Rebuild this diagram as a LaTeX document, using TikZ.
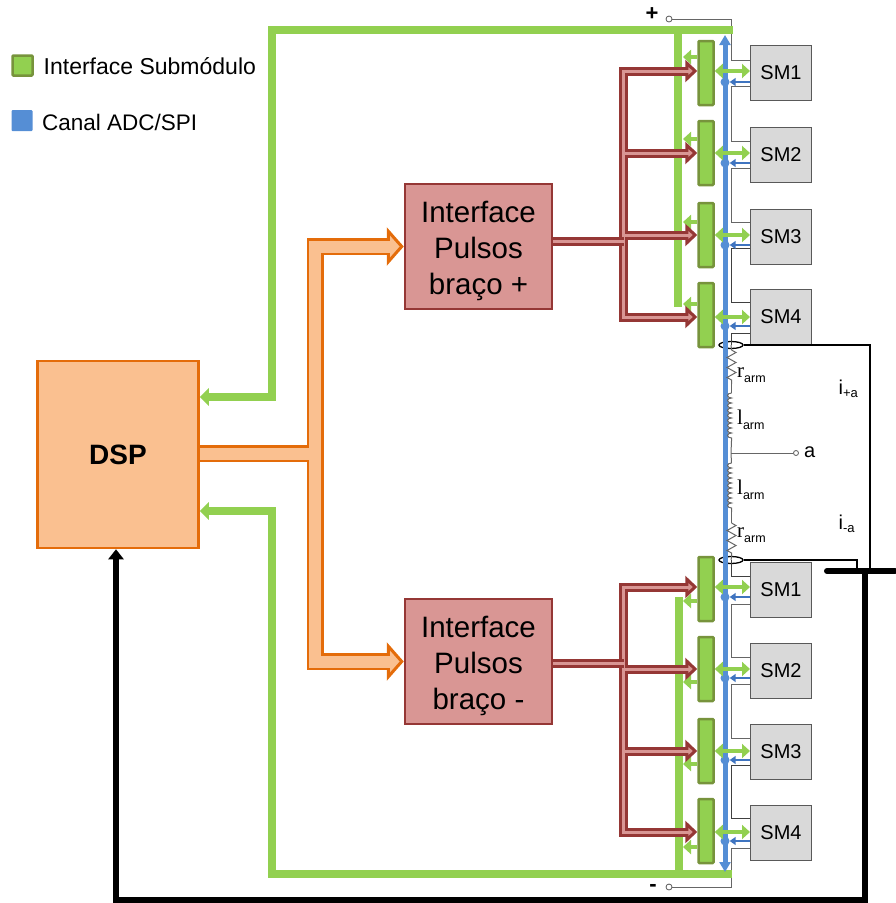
\documentclass[tikz,border=0pt]{standalone}
\usepackage{fontspec}
\setmainfont{Liberation Sans}
\newfontfamily\serifarm{Liberation Serif}
\usetikzlibrary{shapes.geometric,arrows.meta,decorations.pathmorphing}
\definecolor{grn}{HTML}{92D050}
\definecolor{grndark}{HTML}{77933C}
\definecolor{blu}{HTML}{558ED5}
\definecolor{bludark}{HTML}{3F74C0}
\definecolor{org}{HTML}{E46C0A}
\definecolor{orgfill}{HTML}{FAC090}
\definecolor{rd}{HTML}{953735}
\definecolor{rdfill}{HTML}{D99694}
\tikzstyle{dspbox} = [rectangle, minimum width=161pt, minimum height=187pt, inner sep=0pt, text centered, draw=org, fill=orgfill, line width=2.5pt, font=\fontsize{28}{30}\selectfont\bfseries]
\tikzstyle{pulsebox} = [rectangle, minimum width=147pt, minimum height=125pt, inner sep=0pt, draw=rd, fill=rdfill, line width=2.5pt]
\tikzstyle{pulsetext} = [inner sep=0pt, align=center, yshift=-4.5pt, font=\fontsize{29.5}{36}\selectfont]
\tikzstyle{smbox} = [rectangle, minimum width=61pt, minimum height=55pt, inner sep=0pt, text centered, draw=black!65, fill=black!15, line width=1pt, font=\fontsize{20}{22}\selectfont]
\tikzstyle{module} = [rectangle, rounded corners=1pt, minimum width=15pt, minimum height=64pt, inner sep=0pt, draw=grndark, fill=grn, line width=2.5pt]
\tikzstyle{legendtext} = [anchor=west, inner sep=0pt]
\tikzstyle{lbl} = [anchor=base west, inner sep=0pt, font=\fontsize{20}{22}\selectfont]
\tikzstyle{terminal} = [circle, draw=black!65, fill=white, line width=0.8pt, minimum size=6pt, inner sep=0pt]
\tikzstyle{wire} = [draw=black!60, line width=1pt]
\tikzstyle{wiredark} = [draw=black!75, line width=1pt]
\tikzstyle{greenbus} = [draw=grn, line width=8pt, >={Triangle[length=9pt,width=17pt]}]
\tikzstyle{greenthin} = [draw=grn, line width=4pt, >={Triangle[length=8pt,width=14pt]}]
\tikzstyle{bluebus} = [draw=blu, line width=5pt, >={Triangle[length=10pt,width=11pt]}]
\tikzstyle{bluethin} = [draw=bludark, line width=2pt, >={Triangle[length=6pt,width=8pt]}]
\tikzstyle{orangebus} = [draw=org, line width=2.5pt, double=orgfill, double distance=12pt, >={Triangle[length=17pt,width=38pt,line width=3pt,fill=orgfill]}]
\tikzstyle{orangepatch} = [draw=orgfill, line width=12pt]
\tikzstyle{redbus} = [draw=rd, line width=3pt, double=rdfill, double distance=3pt, >={Triangle[length=12pt,width=22pt,line width=3.5pt,fill=rdfill]}]
\tikzstyle{redpatch} = [draw=rdfill, line width=3pt]
\tikzstyle{sense} = [draw=black, line width=6pt, >={Triangle[length=10pt,width=15pt]}]
\tikzset{
  resistor/.style={wire, decorate, decoration={zigzag, segment length=10pt, amplitude=4.5pt}},
  inductor/.style={wire, decorate, decoration={bumps, mirror, segment length=10pt, amplitude=4pt}}
}
\newcommand{\armsub}[1]{\raisebox{-5pt}{\fontsize{12.5}{14}\selectfont #1}}
\newcommand{\cursub}[1]{\raisebox{-3pt}{\fontsize{13}{14}\selectfont #1}}
\begin{document}
\begin{tikzpicture}[x=1pt,y=-1pt]
  \useasboundingbox (0,0) rectangle (895,903);
  \node (legmod)[rectangle, rounded corners=1pt, draw=grndark, fill=grn, line width=2.5pt, minimum size=20pt, inner sep=0pt] at (22.5,65.5) {};
  \node (legmodtext)[legendtext, font=\fontsize{23}{26}\selectfont] at (43.5,66) {Interface Submódulo};
  \node (legadc)[rectangle, rounded corners=1pt, fill=blu, minimum size=21pt, inner sep=0pt] at (22,120.5) {};
  \node (legadctext)[legendtext, font=\fontsize{22.5}{26}\selectfont] at (42,122) {Canal ADC/SPI};
  \node (dsp)[dspbox] at (118,454.5) {DSP};
  \node (pu)[pulsebox] at (478.5,246.5) {};
  \node (putext)[pulsetext] at (pu.center) {Interface\\Pulsos\\braço +};
  \node (pl)[pulsebox] at (478.5,661.5) {};
  \node (pltext)[pulsetext] at (pl.center) {Interface\\Pulsos\\braço -};
  \foreach \n/\ymod in {u1/73, u2/153, u3/235, u4/315, l1/589, l2/669, l3/751, l4/831} {
    \node (mod\n)[module] at (706,\ymod) {};
  }
  \foreach \n/\t/\ysm in {u1/SM1/73, u2/SM2/154.5, u3/SM3/236.5, u4/SM4/316.5, l1/SM1/590, l2/SM2/671, l3/SM3/752, l4/SM4/833} {
    \node (sm\n)[smbox] at (781,\ysm) {\t};
  }
  \node (plus)[terminal] at (669,19) {};
  \node (plustext)[inner sep=0pt, font=\fontsize{22}{24}\selectfont\bfseries] at (652,14) {+};
  \node (minus)[terminal] at (669,887) {};
  \node (minustext)[inner sep=0pt, font=\fontsize{22}{24}\selectfont\bfseries] at (653,888) {-};
  \node (ringu)[ellipse, draw=black, line width=1.3pt, minimum width=24pt, minimum height=7pt, inner sep=0pt] at (731,345) {};
  \node (ringl)[ellipse, draw=black, line width=1.3pt, minimum width=24pt, minimum height=7pt, inner sep=0pt] at (731,560) {};
  \node (terma)[terminal, minimum size=5pt] at (796,453) {};
  \node (atext)[lbl] at (804,457) {a};
  \node (r1text)[lbl] at (737,377) {{\serifarm\fontsize{21}{22}\selectfont r}\armsub{arm}};
  \node (l1text)[lbl] at (737,424) {{\serifarm\fontsize{21}{22}\selectfont l}\armsub{arm}};
  \node (l2text)[lbl] at (737,494) {{\serifarm\fontsize{21}{22}\selectfont l}\armsub{arm}};
  \node (r2text)[lbl] at (737,537) {{\serifarm\fontsize{21}{22}\selectfont r}\armsub{arm}};
  \node (ipa)[lbl] at (838.5,394) {i\cursub{+a}};
  \node (ima)[lbl] at (838.5,529) {i\cursub{-a}};
  \coordinate (jct) at (731,453);
  \coordinate (gtopend) at (733,30);
  \coordinate (gbotend) at (732,874);
  \coordinate (senseleft) at (827,571);
  \coordinate (senseright) at (895,571);
  \draw[wire] (plus.east) -- (731,19) -- (731,60) -- (smu1.west |- 0,60);
  \draw[wire] (smu1.west |- 0,86) -| (731,141) -- (smu2.west |- 0,141);
  \draw[wire] (smu2.west |- 0,168) -| (731,222) -- (smu3.west |- 0,222);
  \draw[wiredark] (smu3.west |- 0,248) -| (731,302) -- (smu4.west |- 0,302);
  \draw[wiredark] (smu4.west |- 0,333) -| (ringu.center);
  \draw[wiredark] (ringl.center) |- (sml1.west |- 0,576);
  \draw[wire] (sml1.west |- 0,604) -| (731,657) -- (sml2.west |- 0,657);
  \draw[wire] (sml2.west |- 0,684) -| (731,738) -- (sml3.west |- 0,738);
  \draw[wiredark] (sml3.west |- 0,765) -| (731,818) -- (sml4.west |- 0,818);
  \draw[wire] (sml4.west |- 0,848) -| (731,887) -- (minus.east);
  \draw[line width=1.3pt] (ringu.east) -- (870,345) -- (870,571);
  \draw[line width=1.3pt] (ringl.east) -- (857,560) -- (857,571);
  \draw[greenbus,->] (gtopend) -- (272,30) -- (272,397) -- (dsp.east |- 0,397);
  \draw[greenbus] (678,30) -- (678,307);
  \draw[greenbus,->] (gbotend) -- (272,874) -- (272,511) -- (dsp.east |- 0,511);
  \draw[greenbus] (679,874) -- (679,597);
  \draw[bluebus,<->] (725,35) -- (725,872);
  \draw[wire] (ringu.center) -- (731.5,350);
  \draw[resistor] (731.5,350) -- (731.5,384);
  \draw[wire] (731.5,384) -- (731.5,393);
  \draw[inductor] (731.5,393) -- (731.5,441);
  \draw[wire] (731.5,441) -- (jct) -- (731.5,463);
  \draw[wire] (jct) -- (terma);
  \draw[inductor] (731.5,463) -- (731.5,512);
  \draw[wire] (731.5,512) -- (731.5,523);
  \draw[resistor] (731.5,523) -- (731.5,557);
  \draw[wire] (731.5,557) -- (ringl.center);
  \foreach \n/\yarr/\ydot/\yside in {u1/71/82/57, u2/153/163/139, u3/235/245/222, u4/317/326/304, l1/587/597/601, l2/669/678/682, l3/751/760/764, l4/832/841/847} {
    \node (dot\n)[circle, fill=blu, minimum size=9pt, inner sep=0pt] at (725,\ydot) {};
    \draw[bluethin,->] (sm\n.west |- 0,\ydot) -- (dot\n.east);
    \draw[greenthin,<->] (mod\n.east |- 0,\yarr) -- (sm\n.west |- 0,\yarr);
    \draw[greenthin,->] (mod\n.west |- 0,\yside) -- (683,\yside);
  }
  \draw[sense,line cap=round] (senseleft) -- (senseright);
  \draw[sense,->] (865,571) -- (865,900) -- (116,900) -- (116,0 |- dsp.south);
  \draw[orangebus] (dsp.east |- 0,453.5) -- (315,453.5);
  \draw[orangebus,<->] (pu.west) -- (315,246.5) -- (315,661.5) -- (pl.west);
  \draw[orangepatch] (300,453.5) -- (315,453.5);
  \draw[orangepatch] (378,246.5) -- (392,246.5);
  \draw[orangepatch] (378,661.5) -- (392,661.5);
  \foreach \n/\yarr in {u2/153, u3/235, l2/669, l3/751} {
    \draw[redbus,->] (623.5,\yarr) -- (mod\n.west |- 0,\yarr);
  }
  \draw[redbus,->] (623.5,241) -- (623.5,71) -- (modu1.west |- 0,71);
  \draw[redbus,->] (623.5,241) -- (623.5,317) -- (modu4.west |- 0,317);
  \draw[redbus,->] (623.5,663) -- (623.5,587) -- (modl1.west |- 0,587);
  \draw[redbus,->] (623.5,663) -- (623.5,832) -- (modl4.west |- 0,832);
  \draw[redbus] (pu.east |- 0,241) -- (623.5,241);
  \draw[redbus] (pl.east |- 0,663) -- (623.5,663);
  \foreach \ya in {153, 235, 669, 751} {
    \draw[redpatch] (623.5,\ya) -- (634,\ya);
  }
  \draw[redpatch] (610,241) -- (623.5,241);
  \draw[redpatch] (610,663) -- (623.5,663);
  \foreach \yb in {71, 153, 235, 317, 587, 669, 751, 832} {
    \draw[redpatch] (680,\yb) -- (690,\yb);
  }
\end{tikzpicture}
\end{document}
